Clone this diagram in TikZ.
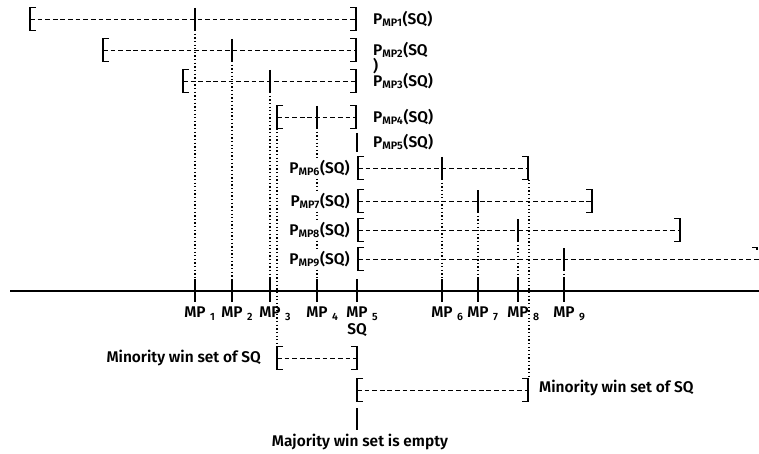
\documentclass[tikz,border=0pt]{standalone}
\usepackage{fontspec}
\setmainfont{Fira Sans}[UprightFont={* SemiBold}]
\usepackage{tikz}
\usetikzlibrary{calc}
% interval with brackets: \wset(left,right,y)
\def\wset(#1,#2,#3){\draw[dashed,dash pattern=on 4pt off 2.5pt] (#1,#3) -- (#2,#3);
	\draw[line width=0.9pt] (#1+6,#3-11.5) -- (#1,#3-11.5) -- (#1,#3+11.5) -- (#1+6,#3+11.5);
	\draw[line width=0.9pt] (#2-6,#3-11.5) -- (#2,#3-11.5) -- (#2,#3+11.5) -- (#2-6,#3+11.5);}
\tikzset{lbl/.style={font=\fontsize{13.2}{14}\selectfont, inner sep=0pt},
	sublbl/.style={font=\fontsize{9}{10}\selectfont, inner sep=0pt},
	vdot/.style={dotted, line width=1.1pt},
	tick/.style={line width=0.9pt}}

\begin{document}
\begin{tikzpicture}[x=0.03cm, y=-0.03cm]
		%%%%% START %%%%%
		\useasboundingbox (0,0) rectangle (759,454);
		
		% preferred sets of the members
		\wset(30,356,19)
		\wset(103,356,50)
		\wset(183,356,81)
		\wset(277,356,117)
		\draw[tick] (357,133) -- (357,152);
		\wset(358,528,168)
		\wset(358,592,201)
		\wset(358,680,230)
		\draw[dashed,dash pattern=on 4pt off 2.5pt] (358,259) -- (759,259);
		\draw[line width=0.9pt] (364,247.5) -- (358,247.5) -- (358,270.5) -- (364,270.5);
		\draw[line width=0.9pt] (752,247.5) -- (757,247.5) -- (757,250);
		
		% ideal points on the sets
		\foreach \x/\y in {195/19, 232/50, 270/81, 317/117, 442/168, 478/201, 518/230, 564/259}
		{\draw[tick] (\x,\y-11) -- (\x,\y+11);
		 \draw[vdot] (\x,\y+11) -- (\x,279);}
		\draw[vdot] (277,128.5) -- (277,347);
		\draw[vdot] (529,179.5) -- (529,378);
		
		% labels of the sets
		\foreach \n/\y in {1/19, 3/81, 4/117, 5/142}
		\node[lbl, anchor=west] (pmp\n) at (373,\y) {P\textsubscript{MP\n}(SQ)};
		\node[lbl, anchor=west] (pmp2) at (373,50) {P\textsubscript{MP2}(SQ};
		\node[lbl, anchor=west] (pclose) at (373,66) {)};
		\foreach \n/\y in {6/168, 7/201, 8/230, 9/259}
		\node[lbl, anchor=east, fill=white, inner sep=1pt] (pmp\n) at (351,\y) {P\textsubscript{MP\n}(SQ)};
		
		% the policy line
		\draw[line width=0.9pt] (10,291) -- (759,291);
		\foreach \x/\n in {195/1, 232/2, 270/3, 317/4, 357/5, 442/6, 478/7, 518/8, 564/9}
		{\draw[tick] (\x,279) -- (\x,302);
		 \node[lbl] (mp\n) at (\x,312) {MP};
		 \node[sublbl, anchor=west] (mpsub\n) at ($(mp\n.east)+(4,5)$) {\n};}
		\node[lbl] (sq) at (357,330) {SQ};
		
		% win sets
		\wset(277,357,358)
		\node[lbl, anchor=east] (minl) at (261,358) {Minority win set of SQ};
		\wset(357,528,390)
		\node[lbl, anchor=west] (minr) at (539,388) {Minority win set of SQ};
		\draw[tick] (357,408) -- (357,430);
		\node[lbl] (maj) at (360,442) {Majority win set is empty};
		%%%%% END %%%%%
	\end{tikzpicture}
\end{document}
